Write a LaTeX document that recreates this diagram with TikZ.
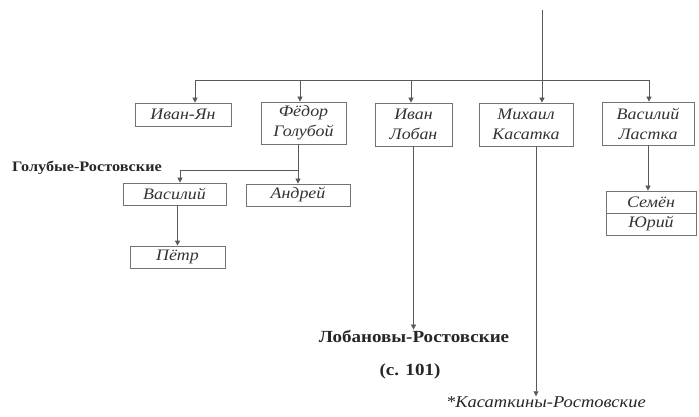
\documentclass[tikz,border=0pt]{standalone}
\usepackage{fontspec}
\setmainfont{Liberation Serif}[FakeStretch=1.12]
\usetikzlibrary{arrows.meta, positioning}

\begin{document}
\begin{tikzpicture}[x=1pt, y=-1pt,
   person/.style={draw=black!55, line width=0.7pt, inner sep=0pt, align=center,
      font=\fontsize{16}{20}\selectfont\itshape, text=black!80},
   link/.style={draw=black!65, line width=0.7pt},
   arr/.style={link, -{Triangle[length=5pt, width=5pt]}},
   branch/.style={inner sep=0pt, font=\fontsize{17}{19}\selectfont\bfseries, text=black!85}
]
   \useasboundingbox (0,0) rectangle (699,417);
   % Sons
   \node[person, minimum width=96, minimum height=23] (ivanyan) at (183,114.5) {Иван-Ян};
   \node[person, minimum width=85, minimum height=42] (fedor) at (303.5,123) {Фёдор\\Голубой};
   \node[person, minimum width=77, minimum height=43] (loban) at (413.5,124.5) {Иван\\Лобан};
   \node[person, minimum width=94, minimum height=43] (kasatka) at (526,124.5) {Михаил\\Касатка};
   \node[person, minimum width=92, minimum height=43] (lastka) at (648,123.5) {Василий\\Ластка};
   % Grandsons
   \node[person, minimum width=103, minimum height=22] (vasiliy) at (174.5,194) {Василий};
   \node[person, minimum width=104, minimum height=22] (andrey) at (298,195) {Андрей};
   \node[person, minimum width=95, minimum height=22] (petr) at (177.5,257) {Пётр};
   \node[person, minimum width=90, minimum height=22] (semyon) at (651,202) {Семён};
   \node[person, minimum width=90, minimum height=22] (yuri) at (651,224) {Юрий};
   % Branch names
   \node[branch, font=\fontsize{14.5}{16}\selectfont\bfseries, anchor=west] (golubye) at (12,168) {Голубые-Ростовские};
   \node[branch] (lobanovy) at (414,336) {Лобановы-Ростовские};
   \node[branch] (page) at (410,371) {(с. 101)};
   \node[branch, font=\fontsize{16.5}{18}\selectfont\itshape, anchor=west] (kasatkiny) at (446,402) {*Касаткины-Ростовские};
   % Bus from the father
   \coordinate (top) at (542,10);
   \coordinate (busL) at (195,80);
   \coordinate (busR) at (649,80);
   \draw[arr] (top) -- (top |- kasatka.north);
   \draw[link] (busL) -- (busR);
   \draw[arr] (busL) -- (busL |- ivanyan.north);
   \draw[arr] (300,80) -- (300,80 |- fedor.north);
   \draw[arr] (411,80) -- (411,80 |- loban.north);
   \draw[arr] (busR) -- (busR |- lastka.north);
   % Fedor's line
   \coordinate (gbus) at (298,170);
   \draw[arr] (andrey.north |- fedor.south) -- (andrey.north);
   \draw[arr] (gbus) -| ([xshift=5.5]vasiliy.north);
   \draw[arr] (petr.north |- vasiliy.south) -- (petr.north);
   % Lastka's line
   \draw[arr] (lastka.south) -- (lastka.south |- semyon.north);
   % Down to branch names
   \draw[arr] (loban.south) -- (loban.south |- lobanovy.north);
   \draw[arr] ([xshift=10]kasatka.south) -- ([xshift=10]kasatka.south |- kasatkiny.north);
\end{tikzpicture}
\end{document}
